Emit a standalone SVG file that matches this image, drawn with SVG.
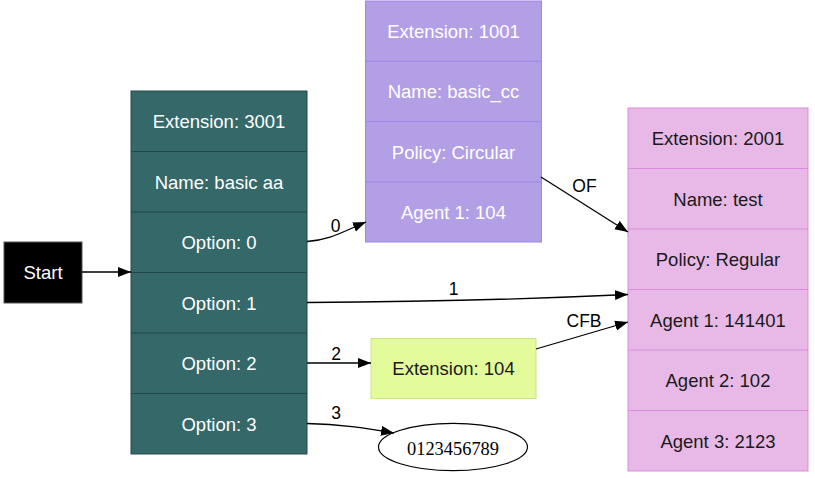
<svg xmlns="http://www.w3.org/2000/svg" width="815" height="478" viewBox="0 0 815 478">
<style>
  text { font-family: "Liberation Sans", Arial, sans-serif; font-size: 18.5px; text-anchor: middle; }
  .w { fill: #ffffff; }
  .k { fill: #1a1a1a; }
  .lbl { font-size: 17.5px; fill: #000; }
  .teal { fill: #356868; stroke: #254848; stroke-width: 1; }
  .tealdiv { stroke: #244646; stroke-width: 1; }
  .purp { fill: #b39fe6; stroke: #9f84ea; stroke-width: 1; }
  .purpdiv { stroke: #9f84ea; stroke-width: 1; }
  .pink { fill: #e8b9e6; stroke: #db8bdb; stroke-width: 1; }
  .pinkdiv { stroke: #db8bdb; stroke-width: 1; }
  .edge { fill: none; stroke: #000; stroke-width: 1.3; marker-end: url(#arr); }
</style>
<defs>
  <marker id="arr" markerUnits="userSpaceOnUse" markerWidth="15" markerHeight="11" refX="13" refY="5" orient="auto">
    <path d="M0,0 L13,5 L0,10 z" fill="#000"/>
  </marker>
</defs>
<rect width="815" height="478" fill="#ffffff"/>

<g id="start">
  <rect x="4" y="242" width="78" height="61" fill="#000" stroke="#555" stroke-width="1"/>
  <text x="43" y="279" class="w">Start</text>
</g>

<g id="node3001">
  <rect x="131" y="91" width="176" height="363" class="teal"/>
  <line x1="131" y1="151.5" x2="307" y2="151.5" class="tealdiv"/>
  <line x1="131" y1="212" x2="307" y2="212" class="tealdiv"/>
  <line x1="131" y1="272.5" x2="307" y2="272.5" class="tealdiv"/>
  <line x1="131" y1="333" x2="307" y2="333" class="tealdiv"/>
  <line x1="131" y1="393.5" x2="307" y2="393.5" class="tealdiv"/>
  <text x="219" y="128" class="w">Extension: 3001</text>
  <text x="219" y="188.5" class="w">Name: basic aa</text>
  <text x="219" y="249" class="w">Option: 0</text>
  <text x="219" y="309.5" class="w">Option: 1</text>
  <text x="219" y="370" class="w">Option: 2</text>
  <text x="219" y="430.5" class="w">Option: 3</text>
</g>

<g id="node1001">
  <rect x="365.5" y="1" width="176" height="241" class="purp"/>
  <line x1="365.5" y1="61.3" x2="541.5" y2="61.3" class="purpdiv"/>
  <line x1="365.5" y1="121.7" x2="541.5" y2="121.7" class="purpdiv"/>
  <line x1="365.5" y1="182" x2="541.5" y2="182" class="purpdiv"/>
  <text x="453.5" y="38" class="w">Extension: 1001</text>
  <text x="453.5" y="98" class="w">Name: basic_cc</text>
  <text x="453.5" y="158.5" class="w">Policy: Circular</text>
  <text x="453.5" y="219" class="w">Agent 1: 104</text>
</g>

<g id="node2001">
  <rect x="628" y="108" width="180" height="363" class="pink"/>
  <line x1="628" y1="168.5" x2="808" y2="168.5" class="pinkdiv"/>
  <line x1="628" y1="229" x2="808" y2="229" class="pinkdiv"/>
  <line x1="628" y1="289.5" x2="808" y2="289.5" class="pinkdiv"/>
  <line x1="628" y1="350" x2="808" y2="350" class="pinkdiv"/>
  <line x1="628" y1="410.5" x2="808" y2="410.5" class="pinkdiv"/>
  <text x="718" y="145" class="k">Extension: 2001</text>
  <text x="718" y="205.5" class="k">Name: test</text>
  <text x="718" y="266" class="k">Policy: Regular</text>
  <text x="718" y="326.5" class="k">Agent 1: 141401</text>
  <text x="718" y="387" class="k">Agent 2: 102</text>
  <text x="718" y="447.5" class="k">Agent 3: 2123</text>
</g>

<g id="node104">
  <rect x="371" y="338.5" width="165" height="60" fill="#e4fb9c" stroke="#c9e585" stroke-width="1"/>
  <text x="453.5" y="375" class="k">Extension: 104</text>
</g>

<g id="number">
  <ellipse cx="453" cy="447" rx="74.5" ry="23.7" fill="#fff" stroke="#000" stroke-width="1.2"/>
  <text x="453" y="455" style="font-family: 'Liberation Serif', 'Times New Roman', serif; font-size: 18.4px;" fill="#000">0123456789</text>
</g>

<g id="connectors">
  <path class="edge" d="M82,272 L131,272"/>
  <path class="edge" d="M307,241.5 C330,240 342,232 366,222"/>
  <text x="335.5" y="232" class="lbl">0</text>
  <path class="edge" d="M541,177 L628,232"/>
  <text x="584.5" y="192" class="lbl">OF</text>
  <path class="edge" d="M307,302.5 C400,302 520,299.5 628,294.5"/>
  <text x="453.5" y="294.5" class="lbl">1</text>
  <path class="edge" d="M536,349 L628,322"/>
  <text x="584" y="327" class="lbl">CFB</text>
  <path class="edge" d="M307,363 L371,363"/>
  <text x="336" y="360" class="lbl">2</text>
  <path class="edge" d="M307,423.5 C340,424 365,428 394,433"/>
  <text x="336" y="418.5" class="lbl">3</text>
</g>
</svg>
